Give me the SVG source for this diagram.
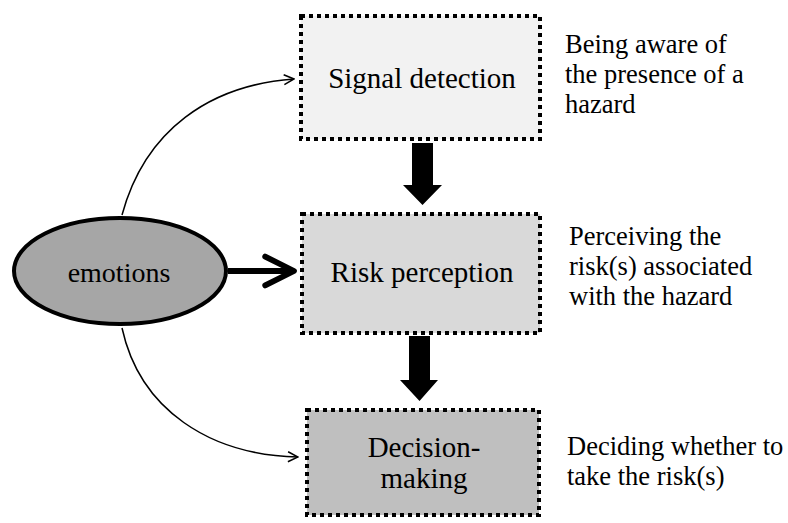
<svg xmlns="http://www.w3.org/2000/svg" width="788" height="523" viewBox="0 0 788 523">
<defs>
<marker id="open" viewBox="0 0 12 12" refX="11" refY="6" markerWidth="12" markerHeight="12" markerUnits="userSpaceOnUse" orient="auto">
<path d="M1,1 L11,6 L1,11" fill="none" stroke="#000" stroke-width="1.5"/>
</marker>
<marker id="openBig" viewBox="0 0 10 10" refX="9" refY="5" markerWidth="6" markerHeight="6" orient="auto">
<path d="M1,1 L9,5 L1,9" fill="none" stroke="#000" stroke-width="1.6" stroke-linecap="round" stroke-linejoin="round"/>
</marker>
</defs>
<style>
.box{stroke:#000;stroke-width:4;stroke-dasharray:4 4;}
text{font-family:Liberation Serif, DejaVu Serif, Times, serif;}
.lbl{font-size:29px;fill:#000;text-anchor:middle;}
.side{font-size:26.5px;fill:#000;}
.curve{fill:none;stroke:#000;stroke-width:1.5;}
</style>
<rect width="788" height="523" fill="#fff"/>
<g id="connectors">
<path class="curve" d="M122,215 C145,130 210,85 294,79" marker-end="url(#open)"/>
<path class="curve" d="M122,328 C140,410 210,455 298,457" marker-end="url(#open)"/>
<path d="M228,271 L294,271" fill="none" stroke="#000" stroke-width="6" marker-end="url(#openBig)"/>
<polygon points="412,143 433,143 433,185 442,185 422.5,205 403,185 412,185" fill="#000"/>
<polygon points="409,336 430,336 430,380 438,380 419.5,401 400,380 409,380" fill="#000"/>
</g>
<g id="emotions">
<ellipse cx="120" cy="271" rx="106" ry="53" fill="#a6a6a6" stroke="#000" stroke-width="4"/>
<text class="lbl" x="119" y="282" font-family="Liberation Serif, serif" style="font-size:28px">emotions</text>
</g>
<g id="signal-detection">
<rect class="box" x="301" y="16" width="239" height="123" fill="#f2f2f2"/>
<text class="lbl" x="422" y="88" font-family="Liberation Serif, serif">Signal detection</text>
</g>
<g id="risk-perception">
<rect class="box" x="302" y="214" width="238" height="119" fill="#d9d9d9"/>
<text class="lbl" x="422" y="282" font-family="Liberation Serif, serif">Risk perception</text>
</g>
<g id="decision-making">
<rect class="box" x="307" y="410" width="232" height="105" fill="#bfbfbf"/>
<text class="lbl" x="424" y="457" font-family="Liberation Serif, serif">Decision-</text>
<text class="lbl" x="424" y="488" font-family="Liberation Serif, serif">making</text>
</g>
<g id="notes">
<text class="side" x="565" y="53">Being aware of</text>
<text class="side" x="565" y="83">the presence of a</text>
<text class="side" x="565" y="113">hazard</text>
<text class="side" x="569" y="245">Perceiving the</text>
<text class="side" x="569" y="275">risk(s) associated</text>
<text class="side" x="569" y="305">with the hazard</text>
<text class="side" x="567" y="455">Deciding whether to</text>
<text class="side" x="567" y="485">take the risk(s)</text>
</g>
</svg>
